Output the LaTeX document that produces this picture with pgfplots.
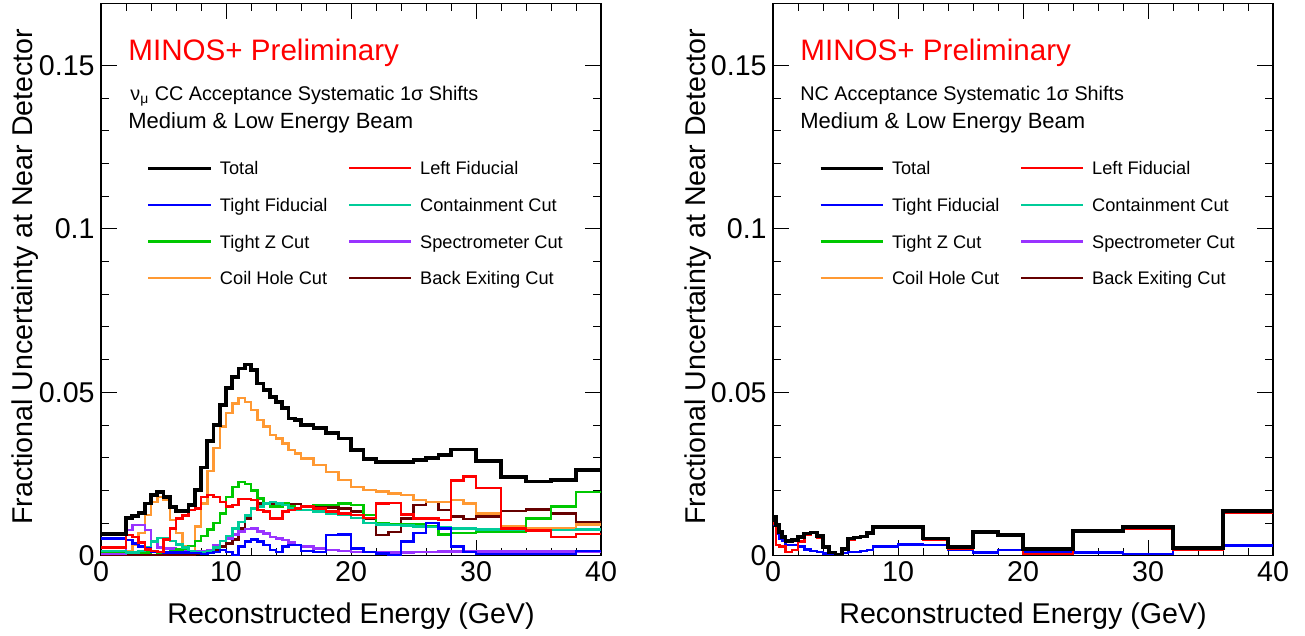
\documentclass[border=0pt]{standalone}
\usepackage{fontspec}
\setmainfont{Liberation Sans}
\usepackage{pgfplots}
\usepackage{pgfplotstable}
\pgfplotsset{compat=1.18}

\definecolor{cLeft}{RGB}{255,0,0}
\definecolor{cTight}{RGB}{0,0,255}
\definecolor{cCont}{RGB}{0,204,153}
\definecolor{cTightZ}{RGB}{0,200,0}
\definecolor{cSpec}{RGB}{153,51,255}
\definecolor{cCoil}{RGB}{255,153,51}
\definecolor{cBack}{RGB}{102,0,0}

% nu_mu CC selection: fractional 1 sigma shifts, x = lower bin edge (GeV)
\pgfplotstableread{
x    tot    lf     tf     cc     tz     sp     ch     be
0    0.0066 0.0025 0.0053 0.0015 0.0012 0.0005 0.0027 0.0002
2.0  0.0115 0.0063 0.0048 0.0010 0.0010 0.0079 0.0015 0.0002
2.5  0.0122 0.0058 0.0038 0.0010 0.0008 0.0094 0.0035 0.0002
3.0  0.0130 0.0040 0.0028 0.0015 0.0008 0.0094 0.0070 0.0002
3.5  0.0160 0.0020 0.0022 0.0025 0.0010 0.0079 0.0125 0.0002
4.0  0.0185 0.0015 0.0012 0.0043 0.0012 0.0045 0.0165 0.0002
4.5  0.0196 0.0012 0.0012 0.0055 0.0010 0.0025 0.0180 0.0002
5.0  0.0180 0.0050 0.0010 0.0055 0.0010 0.0022 0.0170 0.0002
5.5  0.0150 0.0084 0.0010 0.0045 0.0015 0.0022 0.0110 0.0002
6.0  0.0137 0.0114 0.0010 0.0035 0.0020 0.0018 0.0070 0.0002
6.5  0.0137 0.0124 0.0010 0.0025 0.0022 0.0015 0.0030 0.0002
7.0  0.0155 0.0140 0.0008 0.0015 0.0030 0.0015 0.0015 0.0003
7.5  0.0200 0.0145 0.0008 0.0010 0.0045 0.0015 0.0090 0.0005
8.0  0.0270 0.0180 0.0005 0.0010 0.0060 0.0015 0.0160 0.0009
8.5  0.0350 0.0186 0.0008 0.0015 0.0080 0.0018 0.0260 0.0012
9.0  0.0400 0.0180 0.0012 0.0025 0.0100 0.0033 0.0330 0.0017
9.5  0.0460 0.0165 0.0017 0.0045 0.0130 0.0045 0.0395 0.0028
10.0 0.0512 0.0150 0.0012 0.0060 0.0180 0.0053 0.0436 0.0038
10.5 0.0548 0.0155 0.0002 0.0084 0.0210 0.0065 0.0466 0.0050
11.0 0.0573 0.0173 0.0028 0.0104 0.0225 0.0075 0.0482 0.0084
11.5 0.0585 0.0173 0.0043 0.0124 0.0220 0.0082 0.0471 0.0114
12.0 0.0568 0.0170 0.0050 0.0145 0.0200 0.0084 0.0446 0.0143
12.5 0.0527 0.0140 0.0043 0.0150 0.0175 0.0075 0.0415 0.0160
13.0 0.0507 0.0135 0.0033 0.0160 0.0160 0.0068 0.0395 0.0160
13.5 0.0486 0.0114 0.0017 0.0165 0.0150 0.0058 0.0369 0.0160
14.0 0.0471 0.0114 0.0012 0.0160 0.0150 0.0053 0.0359 0.0158
14.5 0.0451 0.0135 0.0028 0.0155 0.0160 0.0048 0.0344 0.0158
15.0 0.0420 0.0140 0.0033 0.0145 0.0150 0.0040 0.0323 0.0158
15.5 0.0415 0.0145 0.0033 0.0140 0.0140 0.0033 0.0313 0.0158
16   0.0400 0.0150 0.0014 0.0140 0.0140 0.0028 0.0298 0.0153
17   0.0390 0.0145 0.0012 0.0135 0.0155 0.0022 0.0278 0.0150
18   0.0376 0.0135 0.0063 0.0130 0.0155 0.0018 0.0257 0.0148
19   0.0359 0.0130 0.0065 0.0125 0.0160 0.0014 0.0232 0.0145
20   0.0324 0.0125 0.0022 0.0115 0.0155 0.0012 0.0211 0.0135
21   0.0296 0.0115 0.0012 0.0100 0.0125 0.0012 0.0201 0.0114
22   0.0288 0.0160 0.0007 0.0096 0.0100 0.0011 0.0196 0.0063
23   0.0288 0.0162 0.0002 0.0094 0.0095 0.0010 0.0191 0.0073
24   0.0286 0.0127 0.0043 0.0092 0.0098 0.0010 0.0186 0.0114
25   0.0293 0.0114 0.0070 0.0090 0.0098 0.0012 0.0170 0.0155
26   0.0298 0.0114 0.0100 0.0088 0.0090 0.0012 0.0165 0.0165
27   0.0308 0.0110 0.0084 0.0086 0.0065 0.0013 0.0165 0.0140
28   0.0325 0.0231 0.0028 0.0084 0.0070 0.0013 0.0170 0.0120
29   0.0325 0.0242 0.0012 0.0083 0.0070 0.0013 0.0160 0.0112
30   0.0290 0.0208 0.0005 0.0080 0.0075 0.0013 0.0130 0.0120
32   0.0242 0.0083 0.0005 0.0079 0.0075 0.0013 0.0090 0.0137
34   0.0227 0.0078 0.0005 0.0079 0.0114 0.0013 0.0085 0.0142
36   0.0232 0.0058 0.0005 0.0079 0.0150 0.0013 0.0085 0.0130
38   0.0262 0.0066 0.0015 0.0080 0.0195 0.0013 0.0095 0.0104
40   0.0262 0.0066 0.0015 0.0080 0.0195 0.0013 0.0095 0.0104
}\ccdata

% NC selection: only the fiducial shifts are non-negligible
\pgfplotstableread{
x    tot    lf     tf
0    0.0118 0.0099 0.0094
0.25 0.0095 0.0033 0.0068
0.5  0.0073 0.0028 0.0053
0.75 0.0058 0.0028 0.0045
1.0  0.0046 0.0012 0.0033
1.5  0.0048 0.0017 0.0033
2.0  0.0058 0.0043 0.0028
2.5  0.0068 0.0065 0.0020
3.0  0.0071 0.0070 0.0015
3.5  0.0060 0.0055 0.0012
4.0  0.0028 0.0028 0.0007
4.5  0.0010 0.0010 0.0005
5.0  0.0004 0.0004 0.0003
5.5  0.0020 0.0018 0.0008
6.0  0.0053 0.0050 0.0012
6.5  0.0056 0.0054 0.0012
7.0  0.0059 0.0057 0.0014
7.5  0.0070 0.0066 0.0017
8    0.0089 0.0085 0.0028
10   0.0089 0.0085 0.0035
12   0.0053 0.0048 0.0033
14   0.0026 0.0022 0.0019
16   0.0073 0.0070 0.0010
18   0.0063 0.0060 0.0018
20   0.0020 0.0006 0.0010
24   0.0076 0.0073 0.0010
28   0.0087 0.0084 0.0005
32   0.0023 0.0020 0.0019
36   0.0137 0.0132 0.0031
40   0.0137 0.0132 0.0031
}\ncdata

\tikzset{note/.style={anchor=base west, inner sep=0pt}}
\newcommand{\labelfont}{\fontsize{14.3}{17}\selectfont}

\pgfplotsset{
  minosaxis/.style={
    scale only axis, width=250pt, height=276.3pt,
    xmin=0, xmax=40, ymin=0, ymax=0.169,
    xtick={0,10,20,30,40}, xticklabels={0,10,20,30,40}, minor x tick num=4,
    ytick={0,0.05,0.1,0.15}, yticklabels={0,0.05,0.1,0.15}, minor y tick num=4,
    scaled y ticks=false,
    tick align=inside,
    major tick length=8pt, minor tick length=4pt,
    every tick/.style={black, line width=0.5pt},
    axis line style={line width=0.6pt},
    tick label style={font=\labelfont},
    xticklabel style={anchor=north, inner sep=0pt, yshift=-2.5pt},
    yticklabel style={anchor=east, inner sep=0pt, xshift=-3pt},
    every axis x label/.style={at={(axis description cs:0.5,-0.123)}, anchor=base,
      font=\labelfont, inner sep=0pt},
    every axis y label/.style={at={(axis description cs:-0.136,0.505)}, anchor=base,
      rotate=90, font=\labelfont, inner sep=0pt},
    xlabel={Reconstructed Energy (GeV)},
    ylabel={Fractional Uncertainty at Near Detector},
    legend columns=2,
    legend cell align=left,
    legend image code/.code={\draw[##1] (0pt,0pt) -- (31pt,0pt);},
    legend style={draw=none, fill=none, inner sep=0pt, outer sep=0pt,
      at={(axis description cs:0.092,0.715)}, anchor=north west,
      row sep=10.85pt, column sep=0pt,
      font=\fontsize{9.1}{11}\selectfont,
      nodes={inner sep=0pt, text height=7pt, text depth=0.5pt}},
    hist/.style={const plot, line width=1.25pt, forget plot},
    tothist/.style={const plot, line width=1.9pt, forget plot, black},
  },
}

\newcommand{\minoslegend}{%
  \addlegendimage{black, line width=1.5pt}
  \addlegendentry{\hspace*{4pt}\makebox[64pt][l]{Total}}
  \addlegendimage{cLeft, line width=1.1pt}
  \addlegendentry{\hspace*{4pt}Left Fiducial}
  \addlegendimage{cTight, line width=1.1pt}
  \addlegendentry{\hspace*{4pt}\makebox[64pt][l]{Tight Fiducial}}
  \addlegendimage{cCont, line width=1.1pt}
  \addlegendentry{\hspace*{4pt}Containment Cut}
  \addlegendimage{cTightZ, line width=1.1pt}
  \addlegendentry{\hspace*{4pt}\makebox[64pt][l]{Tight Z Cut}}
  \addlegendimage{cSpec, line width=1.1pt}
  \addlegendentry{\hspace*{4pt}Spectrometer Cut}
  \addlegendimage{cCoil, line width=1.1pt}
  \addlegendentry{\hspace*{4pt}\makebox[64pt][l]{Coil Hole Cut}}
  \addlegendimage{cBack, line width=1.1pt}
  \addlegendentry{\hspace*{4pt}Back Exiting Cut}%
}

\begin{document}
\begin{tikzpicture}
\useasboundingbox (0,0) rectangle (652.5pt,318pt);

% nu_mu CC panel
\begin{axis}[minosaxis, at={(50.5pt,40.1pt)}, anchor=south west]
  \minoslegend
  \addplot[hist, cBack]   table[x=x, y=be] {\ccdata};
  \addplot[hist, cCoil]   table[x=x, y=ch] {\ccdata};
  \addplot[hist, cSpec]   table[x=x, y=sp] {\ccdata};
  \addplot[hist, cTightZ] table[x=x, y=tz] {\ccdata};
  \addplot[hist, cCont]   table[x=x, y=cc] {\ccdata};
  \addplot[hist, cTight]  table[x=x, y=tf] {\ccdata};
  \addplot[hist, cLeft]   table[x=x, y=lf] {\ccdata};
  \addplot[tothist]       table[x=x, y=tot] {\ccdata};
  \node[note, text=red, font=\fontsize{14.8}{17}\selectfont] at (axis description cs:0.054,0.8956) {MINOS+ Preliminary};
  \node[note, font=\fontsize{9.9}{12}\selectfont] at (axis description cs:0.058,0.8233) {ν\textsubscript{μ} CC Acceptance Systematic 1σ Shifts};
  \node[note, font=\fontsize{11}{13}\selectfont] at (axis description cs:0.054,0.7725) {Medium \& Low Energy Beam};
\end{axis}

% NC panel
\begin{axis}[minosaxis, at={(386.5pt,40.1pt)}, anchor=south west]
  \minoslegend
  \addplot[hist, cTight]  table[x=x, y=tf] {\ncdata};
  \addplot[hist, cLeft]   table[x=x, y=lf] {\ncdata};
  \addplot[tothist]       table[x=x, y=tot] {\ncdata};
  \node[note, text=red, font=\fontsize{14.8}{17}\selectfont] at (axis description cs:0.054,0.8956) {MINOS+ Preliminary};
  \node[note, font=\fontsize{9.9}{12}\selectfont] at (axis description cs:0.054,0.8233) {NC Acceptance Systematic 1σ Shifts};
  \node[note, font=\fontsize{11}{13}\selectfont] at (axis description cs:0.054,0.7725) {Medium \& Low Energy Beam};
\end{axis}
\end{tikzpicture}
\end{document}
